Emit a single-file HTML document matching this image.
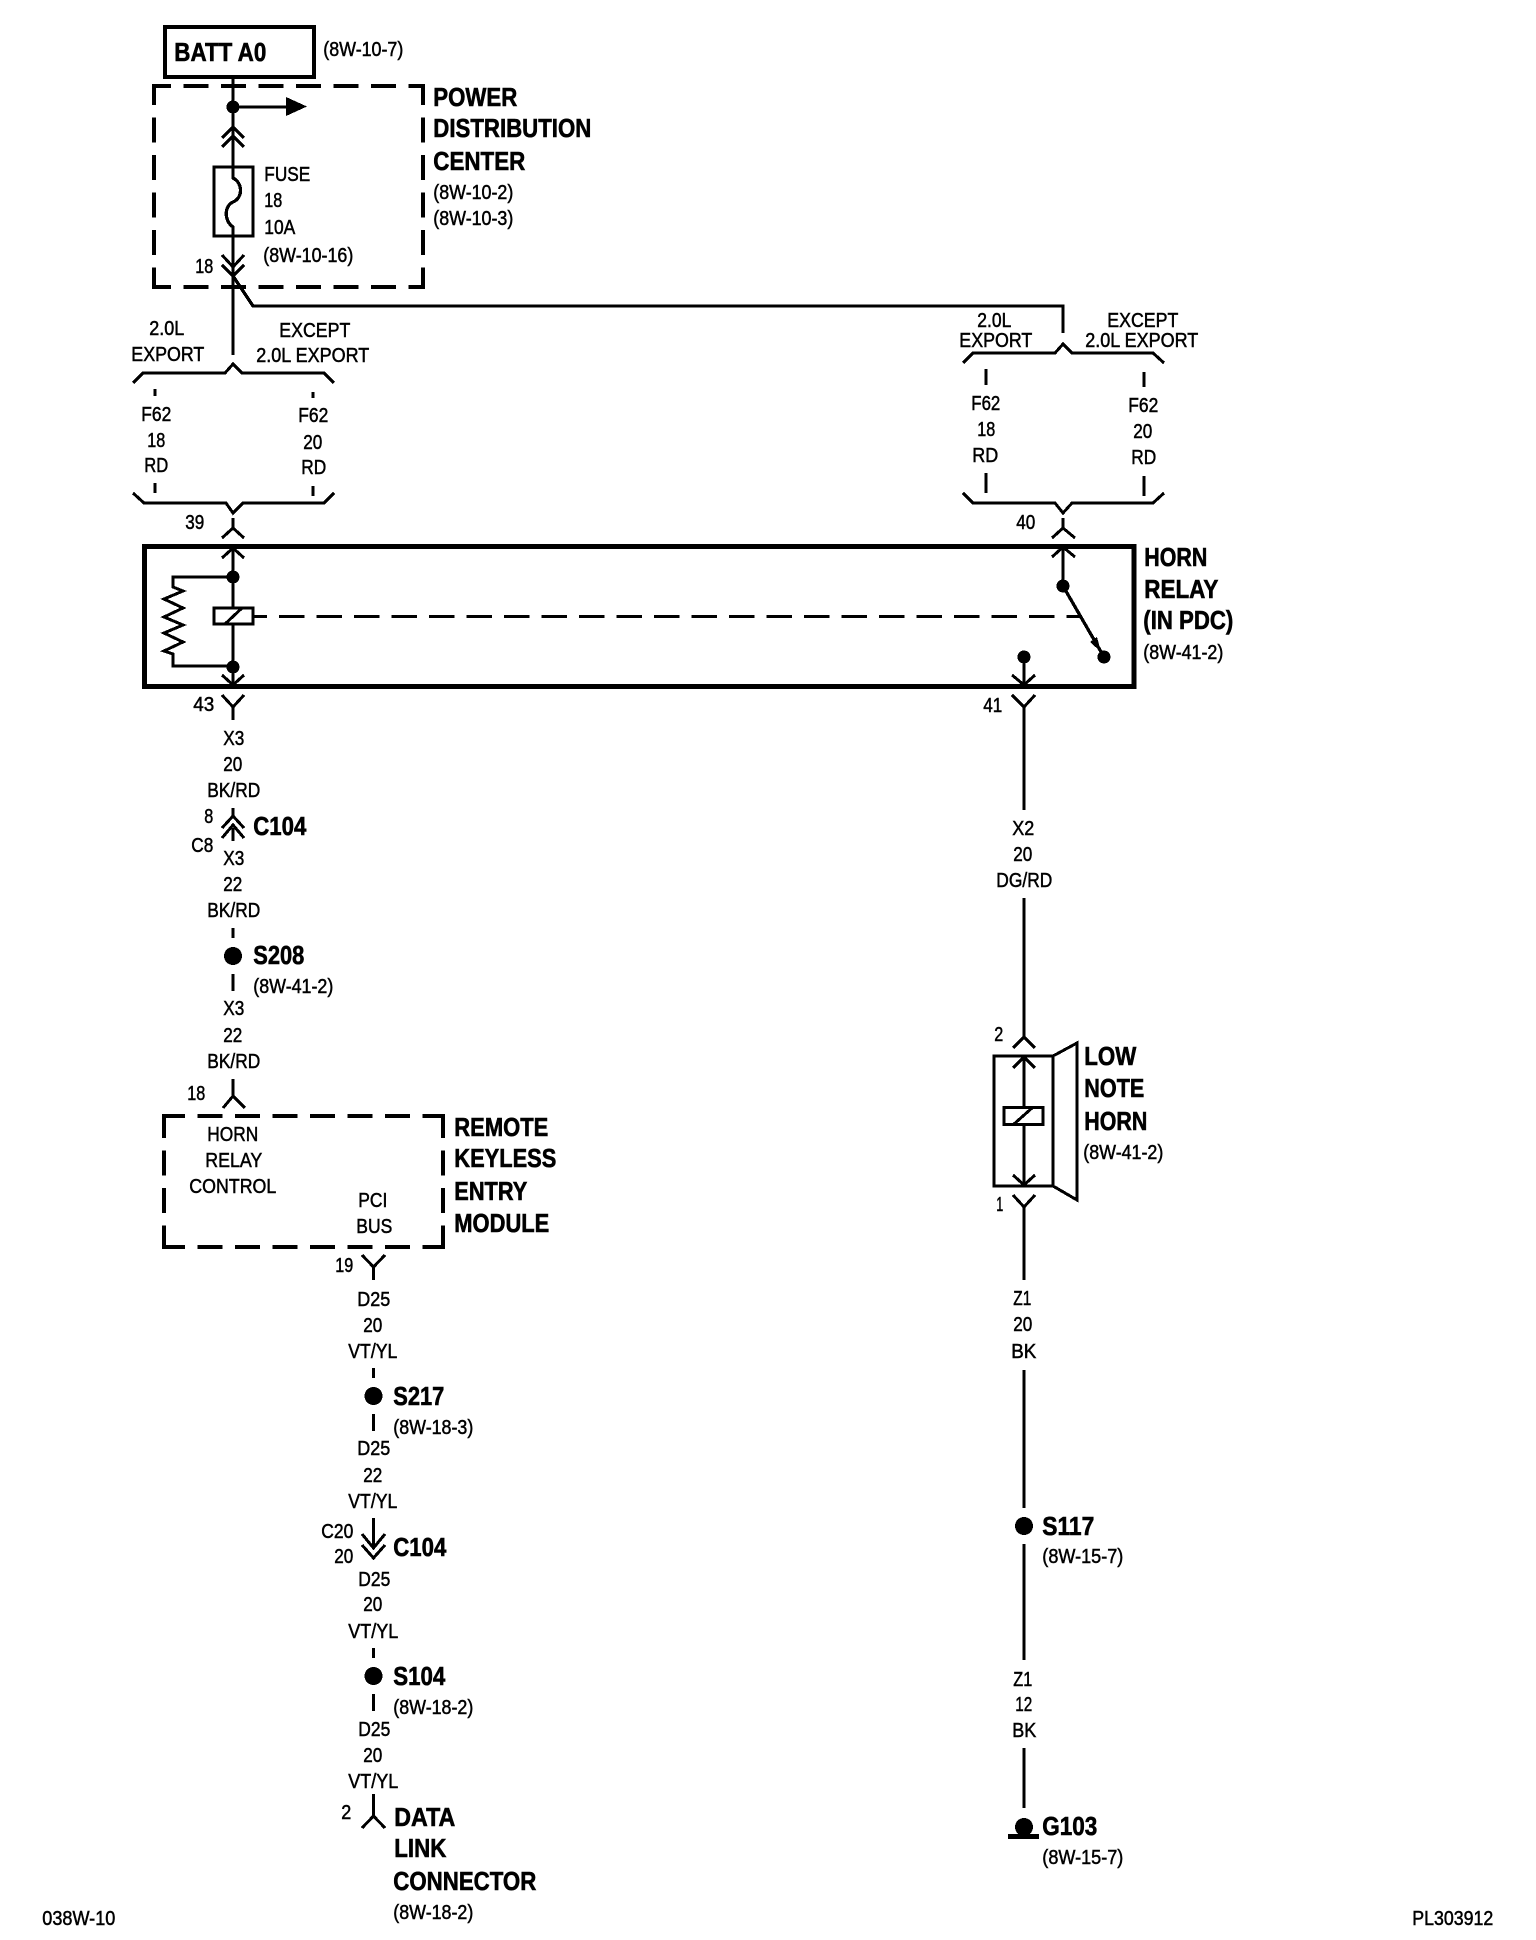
<!DOCTYPE html>
<html>
<head>
<meta charset="utf-8">
<style>
html,body{margin:0;padding:0;background:#fff}
svg{display:block}
text{font-family:"Liberation Sans",Arial,sans-serif;fill:#000;stroke:#000;transform:translate(-.7px,-.8px)}
.t{font-size:20px;stroke-width:.5}
.b{font-size:26px;font-weight:bold;stroke-width:.6}
.w{fill:none;stroke:#000;stroke-width:3.3}
.m{fill:none;stroke:#000;stroke-width:3}
.d{fill:none;stroke:#000;stroke-width:4.2}
</style>
</head>
<body>
<svg xmlns="http://www.w3.org/2000/svg" width="1536" height="1940" viewBox="0 0 1536 1940" shape-rendering="crispEdges">
<rect width="1536" height="1940" fill="#fff"/>

<!-- BATT -->
<rect x="165" y="27" width="149" height="50" class="d"/>
<text class="b" x="175" y="62" textLength="92" lengthAdjust="spacingAndGlyphs">BATT A0</text>
<text class="t" x="324" y="57" textLength="80" lengthAdjust="spacingAndGlyphs">(8W-10-7)</text>

<!-- PDC dashed -->
<g class="d" stroke-dasharray="25 12.5">
<line x1="152" y1="86" x2="425" y2="86" stroke-dashoffset="6"/>
<line x1="152" y1="287" x2="425" y2="287" stroke-dashoffset="6"/>
<line x1="154" y1="86" x2="154" y2="287" stroke-dashoffset="6"/>
<line x1="423" y1="86" x2="423" y2="287" stroke-dashoffset="6"/>
</g>
<text class="b" x="434" y="107" textLength="84" lengthAdjust="spacingAndGlyphs">POWER</text>
<text class="b" x="434" y="138" textLength="158" lengthAdjust="spacingAndGlyphs">DISTRIBUTION</text>
<text class="b" x="434" y="171" textLength="92" lengthAdjust="spacingAndGlyphs">CENTER</text>
<text class="t" x="434" y="200" textLength="80" lengthAdjust="spacingAndGlyphs">(8W-10-2)</text>
<text class="t" x="434" y="226" textLength="80" lengthAdjust="spacingAndGlyphs">(8W-10-3)</text>

<!-- top of left column -->
<path class="w" d="M233 77V178C243 183 243 198 233 202C224 206 224 221 233 227V355"/>
<circle cx="233" cy="107" r="6.5"/>
<path class="w" d="M233 107H288"/>
<path d="M286 97L307 106.500L286 116Z"/>
<path class="m" d="M222 138L233 127L244 138M222 147L233 136L244 147"/>
<rect x="214" y="167" width="39" height="69" class="m"/>
<path class="m" d="M222 255L233 267L244 255M222 265L233 276L244 265"/>
<path class="w" d="M233 276L253 306H1063V333"/>
<text class="t" x="265" y="182" textLength="46" lengthAdjust="spacingAndGlyphs">FUSE</text>
<text class="t" x="265" y="208" textLength="18" lengthAdjust="spacingAndGlyphs">18</text>
<text class="t" x="265" y="235" textLength="31" lengthAdjust="spacingAndGlyphs">10A</text>
<text class="t" x="264" y="263" textLength="90" lengthAdjust="spacingAndGlyphs">(8W-10-16)</text>
<text class="t" x="196" y="274" textLength="18" lengthAdjust="spacingAndGlyphs">18</text>

<!-- left option labels -->
<text class="t" x="150" y="336" textLength="35" lengthAdjust="spacingAndGlyphs">2.0L</text>
<text class="t" x="132" y="362" textLength="73" lengthAdjust="spacingAndGlyphs">EXPORT</text>
<text class="t" x="280" y="338" textLength="71" lengthAdjust="spacingAndGlyphs">EXCEPT</text>
<text class="t" x="257" y="363" textLength="113" lengthAdjust="spacingAndGlyphs">2.0L EXPORT</text>
<path class="m" d="M133 383L143 373H225L233 364L242 373H324L334 383"/>
<path class="w" d="M155 389V396M313 392V398M155 483V493M313 486V496"/>
<text class="t" x="142" y="422" textLength="30" lengthAdjust="spacingAndGlyphs">F62</text>
<text class="t" x="148" y="448" textLength="18" lengthAdjust="spacingAndGlyphs">18</text>
<text class="t" x="145" y="473" textLength="24" lengthAdjust="spacingAndGlyphs">RD</text>
<text class="t" x="299" y="423" textLength="30" lengthAdjust="spacingAndGlyphs">F62</text>
<text class="t" x="304" y="450" textLength="19" lengthAdjust="spacingAndGlyphs">20</text>
<text class="t" x="302" y="475" textLength="25" lengthAdjust="spacingAndGlyphs">RD</text>
<path class="m" d="M133 493L144 503H226L233 513L243 503H324L334 493"/>

<!-- right option labels -->
<text class="t" x="978" y="328" textLength="34" lengthAdjust="spacingAndGlyphs">2.0L</text>
<text class="t" x="960" y="348" textLength="73" lengthAdjust="spacingAndGlyphs">EXPORT</text>
<text class="t" x="1108" y="328" textLength="71" lengthAdjust="spacingAndGlyphs">EXCEPT</text>
<text class="t" x="1086" y="348" textLength="113" lengthAdjust="spacingAndGlyphs">2.0L EXPORT</text>
<path class="m" d="M963 363L973 353H1055L1063 344L1072 353H1153L1164 363"/>
<path class="w" d="M986 369V385M1144 372V387M986 473V493M1144 476V496"/>
<text class="t" x="972" y="411" textLength="29" lengthAdjust="spacingAndGlyphs">F62</text>
<text class="t" x="978" y="437" textLength="18" lengthAdjust="spacingAndGlyphs">18</text>
<text class="t" x="973" y="463" textLength="26" lengthAdjust="spacingAndGlyphs">RD</text>
<text class="t" x="1129" y="413" textLength="30" lengthAdjust="spacingAndGlyphs">F62</text>
<text class="t" x="1134" y="439" textLength="19" lengthAdjust="spacingAndGlyphs">20</text>
<text class="t" x="1132" y="465" textLength="25" lengthAdjust="spacingAndGlyphs">RD</text>
<path class="m" d="M963 493L973 503H1055L1063 513L1072 503H1153L1164 493"/>

<!-- relay connectors top -->
<text class="t" x="186" y="530" textLength="19" lengthAdjust="spacingAndGlyphs">39</text>
<path class="w" d="M233 518V528"/>
<path class="m" d="M222 538L233 528L244 538"/>
<text class="t" x="1017" y="530" textLength="19" lengthAdjust="spacingAndGlyphs">40</text>
<path class="w" d="M1063 518V528"/>
<path class="m" d="M1052 538L1063 528L1075 538"/>

<!-- HORN RELAY box -->
<rect x="144.500" y="546.500" width="989.500" height="140" fill="none" stroke="#000" stroke-width="5"/>
<text class="b" x="1145" y="567" textLength="63" lengthAdjust="spacingAndGlyphs">HORN</text>
<text class="b" x="1145" y="599" textLength="74" lengthAdjust="spacingAndGlyphs">RELAY</text>
<text class="b" x="1144" y="630" textLength="90" lengthAdjust="spacingAndGlyphs">(IN PDC)</text>
<text class="t" x="1144" y="660" textLength="80" lengthAdjust="spacingAndGlyphs">(8W-41-2)</text>

<!-- relay coil -->
<path class="w" d="M233 548V608M233 624V686"/>
<path class="m" d="M222 558L233 548L244 558M222 675L233 685L244 675"/>
<circle cx="233" cy="577" r="6.5"/>
<circle cx="233" cy="667" r="6.5"/>
<rect x="214" y="608" width="39" height="16" class="m"/>
<path class="m" d="M225 624L242 608"/>
<path class="m" d="M233 577H173V587L183 591L164 599L183 608L164 617L183 625L164 633L183 642L164 651L173 654V666H233"/>
<path class="m" d="M254 616.500H267"/>
<line x1="279" y1="616.500" x2="1080" y2="616.500" class="m" stroke-dasharray="25.500 12"/>

<!-- relay switch -->
<path class="w" d="M1063 548V586L1104 657"/>
<path class="m" d="M1052 557L1063 547L1075 557"/>
<circle cx="1063" cy="586" r="6.500"/>
<circle cx="1104" cy="657" r="6.500"/>
<path d="M1101 652L1090 642L1097 637Z"/>
<circle cx="1024" cy="657" r="6.500"/>
<path class="w" d="M1024 657V686"/>
<path class="m" d="M1012 675L1024 685L1035 675"/>

<!-- left column below relay -->
<text class="t" x="194" y="712" textLength="21" lengthAdjust="spacingAndGlyphs">43</text>
<path class="m" d="M222 695L233 707L244 695"/>
<path class="w" d="M233 706V720"/>
<text class="t" x="224" y="746" textLength="21" lengthAdjust="spacingAndGlyphs">X3</text>
<text class="t" x="224" y="772" textLength="19" lengthAdjust="spacingAndGlyphs">20</text>
<text class="t" x="208" y="798" textLength="53" lengthAdjust="spacingAndGlyphs">BK/RD</text>
<path class="w" d="M233 808V818M233 828V841"/>
<path class="m" d="M222 828L233 816L244 828M222 838L233 825L244 838"/>
<text class="t" x="205" y="824" textLength="9" lengthAdjust="spacingAndGlyphs">8</text>
<text class="t" x="192" y="853" textLength="22" lengthAdjust="spacingAndGlyphs">C8</text>
<text class="b" x="254" y="836" textLength="53" lengthAdjust="spacingAndGlyphs">C104</text>
<text class="t" x="224" y="866" textLength="21" lengthAdjust="spacingAndGlyphs">X3</text>
<text class="t" x="224" y="892" textLength="19" lengthAdjust="spacingAndGlyphs">22</text>
<text class="t" x="208" y="918" textLength="53" lengthAdjust="spacingAndGlyphs">BK/RD</text>
<path class="w" d="M233 928V938M233 974V991"/>
<circle cx="233" cy="956" r="9"/>
<text class="b" x="254" y="965" textLength="51" lengthAdjust="spacingAndGlyphs">S208</text>
<text class="t" x="254" y="994" textLength="80" lengthAdjust="spacingAndGlyphs">(8W-41-2)</text>
<text class="t" x="224" y="1016" textLength="21" lengthAdjust="spacingAndGlyphs">X3</text>
<text class="t" x="224" y="1043" textLength="19" lengthAdjust="spacingAndGlyphs">22</text>
<text class="t" x="208" y="1069" textLength="53" lengthAdjust="spacingAndGlyphs">BK/RD</text>
<text class="t" x="188" y="1101" textLength="18" lengthAdjust="spacingAndGlyphs">18</text>
<path class="w" d="M233 1079V1096"/>
<path class="m" d="M223 1108L233 1096L245 1108"/>

<!-- RKE module -->
<g class="d" stroke-dasharray="25 12.5">
<line x1="162" y1="1116" x2="445" y2="1116" stroke-dashoffset="2"/>
<line x1="162" y1="1247" x2="445" y2="1247" stroke-dashoffset="2"/>
<line x1="164" y1="1116" x2="164" y2="1247" stroke-dashoffset="3"/>
<line x1="443" y1="1116" x2="443" y2="1247" stroke-dashoffset="3"/>
</g>
<text class="t" x="208" y="1142" textLength="51" lengthAdjust="spacingAndGlyphs">HORN</text>
<text class="t" x="206" y="1168" textLength="57" lengthAdjust="spacingAndGlyphs">RELAY</text>
<text class="t" x="190" y="1194" textLength="87" lengthAdjust="spacingAndGlyphs">CONTROL</text>
<text class="t" x="359" y="1208" textLength="29" lengthAdjust="spacingAndGlyphs">PCI</text>
<text class="t" x="357" y="1234" textLength="36" lengthAdjust="spacingAndGlyphs">BUS</text>
<text class="b" x="455" y="1137" textLength="94" lengthAdjust="spacingAndGlyphs">REMOTE</text>
<text class="b" x="455" y="1168" textLength="102" lengthAdjust="spacingAndGlyphs">KEYLESS</text>
<text class="b" x="455" y="1201" textLength="73" lengthAdjust="spacingAndGlyphs">ENTRY</text>
<text class="b" x="455" y="1233" textLength="95" lengthAdjust="spacingAndGlyphs">MODULE</text>

<!-- D25 chain -->
<text class="t" x="336" y="1273" textLength="18" lengthAdjust="spacingAndGlyphs">19</text>
<path class="m" d="M362 1255L373.500 1267L385 1255"/>
<path class="w" d="M373.500 1266V1280"/>
<text class="t" x="358" y="1307" textLength="33" lengthAdjust="spacingAndGlyphs">D25</text>
<text class="t" x="364" y="1333" textLength="19" lengthAdjust="spacingAndGlyphs">20</text>
<text class="t" x="349" y="1359" textLength="49" lengthAdjust="spacingAndGlyphs">VT/YL</text>
<path class="w" d="M373.500 1368V1378M373.500 1414V1431"/>
<circle cx="373.500" cy="1396" r="9"/>
<text class="b" x="394" y="1406" textLength="51" lengthAdjust="spacingAndGlyphs">S217</text>
<text class="t" x="394" y="1435" textLength="80" lengthAdjust="spacingAndGlyphs">(8W-18-3)</text>
<text class="t" x="358" y="1456" textLength="33" lengthAdjust="spacingAndGlyphs">D25</text>
<text class="t" x="364" y="1483" textLength="19" lengthAdjust="spacingAndGlyphs">22</text>
<text class="t" x="349" y="1509" textLength="49" lengthAdjust="spacingAndGlyphs">VT/YL</text>
<path class="w" d="M373.500 1518V1548"/>
<path class="m" d="M362 1534L373.500 1548L385 1534M362 1545L373.500 1558L385 1545"/>
<text class="t" x="322" y="1539" textLength="32" lengthAdjust="spacingAndGlyphs">C20</text>
<text class="t" x="335" y="1564" textLength="19" lengthAdjust="spacingAndGlyphs">20</text>
<text class="b" x="394" y="1557" textLength="53" lengthAdjust="spacingAndGlyphs">C104</text>
<text class="t" x="359" y="1587" textLength="32" lengthAdjust="spacingAndGlyphs">D25</text>
<text class="t" x="364" y="1612" textLength="19" lengthAdjust="spacingAndGlyphs">20</text>
<text class="t" x="349" y="1639" textLength="50" lengthAdjust="spacingAndGlyphs">VT/YL</text>
<path class="w" d="M373.500 1648V1658M373.500 1694V1711"/>
<circle cx="373.500" cy="1676" r="9"/>
<text class="b" x="394" y="1686" textLength="52" lengthAdjust="spacingAndGlyphs">S104</text>
<text class="t" x="394" y="1715" textLength="80" lengthAdjust="spacingAndGlyphs">(8W-18-2)</text>
<text class="t" x="359" y="1737" textLength="32" lengthAdjust="spacingAndGlyphs">D25</text>
<text class="t" x="364" y="1763" textLength="19" lengthAdjust="spacingAndGlyphs">20</text>
<text class="t" x="349" y="1789" textLength="50" lengthAdjust="spacingAndGlyphs">VT/YL</text>
<path class="w" d="M373.500 1794V1817"/>
<path class="m" d="M362 1828L373.500 1816L385 1828"/>
<text class="t" x="342" y="1820" textLength="10" lengthAdjust="spacingAndGlyphs">2</text>
<text class="b" x="395" y="1827" textLength="61" lengthAdjust="spacingAndGlyphs">DATA</text>
<text class="b" x="395" y="1858" textLength="52" lengthAdjust="spacingAndGlyphs">LINK</text>
<text class="b" x="394" y="1891" textLength="143" lengthAdjust="spacingAndGlyphs">CONNECTOR</text>
<text class="t" x="394" y="1920" textLength="80" lengthAdjust="spacingAndGlyphs">(8W-18-2)</text>

<!-- right column -->
<text class="t" x="984" y="713" textLength="19" lengthAdjust="spacingAndGlyphs">41</text>
<path class="m" d="M1012 695L1024 707L1035 695"/>
<path class="w" d="M1024 706V810M1024 898V1037"/>
<text class="t" x="1013" y="836" textLength="22" lengthAdjust="spacingAndGlyphs">X2</text>
<text class="t" x="1014" y="862" textLength="19" lengthAdjust="spacingAndGlyphs">20</text>
<text class="t" x="997" y="888" textLength="56" lengthAdjust="spacingAndGlyphs">DG/RD</text>
<text class="t" x="995" y="1042" textLength="9" lengthAdjust="spacingAndGlyphs">2</text>
<path class="m" d="M1013 1048L1024 1037L1035 1048"/>
<rect x="994" y="1056" width="59" height="130" class="w"/>
<path class="m" d="M1053 1056L1077 1043V1200L1053 1186"/>
<path class="w" d="M1024 1056V1107M1024 1125V1186"/>
<path class="m" d="M1013 1068L1024 1057L1035 1068M1013 1175L1024 1185L1035 1175"/>
<rect x="1004" y="1107.500" width="39" height="17" class="m"/>
<path class="m" d="M1014 1124L1032 1108"/>
<text class="b" x="1085" y="1066" textLength="52" lengthAdjust="spacingAndGlyphs">LOW</text>
<text class="b" x="1085" y="1098" textLength="60" lengthAdjust="spacingAndGlyphs">NOTE</text>
<text class="b" x="1085" y="1131" textLength="63" lengthAdjust="spacingAndGlyphs">HORN</text>
<text class="t" x="1084" y="1160" textLength="80" lengthAdjust="spacingAndGlyphs">(8W-41-2)</text>
<text class="t" x="997" y="1212" textLength="7" lengthAdjust="spacingAndGlyphs">1</text>
<path class="m" d="M1013 1195L1024 1207L1035 1195"/>
<path class="w" d="M1024 1206V1280"/>
<text class="t" x="1014" y="1306" textLength="18" lengthAdjust="spacingAndGlyphs">Z1</text>
<text class="t" x="1014" y="1332" textLength="19" lengthAdjust="spacingAndGlyphs">20</text>
<text class="t" x="1012" y="1359" textLength="25" lengthAdjust="spacingAndGlyphs">BK</text>
<path class="w" d="M1024 1370V1508M1024 1544V1660"/>
<circle cx="1024" cy="1526" r="9"/>
<text class="b" x="1043" y="1536" textLength="52" lengthAdjust="spacingAndGlyphs">S117</text>
<text class="t" x="1043" y="1564" textLength="81" lengthAdjust="spacingAndGlyphs">(8W-15-7)</text>
<text class="t" x="1014" y="1687" textLength="19" lengthAdjust="spacingAndGlyphs">Z1</text>
<text class="t" x="1016" y="1712" textLength="17" lengthAdjust="spacingAndGlyphs">12</text>
<text class="t" x="1013" y="1738" textLength="24" lengthAdjust="spacingAndGlyphs">BK</text>
<path class="w" d="M1024 1748V1808"/>
<circle cx="1024" cy="1827" r="9"/>
<rect x="1008" y="1834" width="31" height="5"/>
<text class="b" x="1043" y="1836" textLength="55" lengthAdjust="spacingAndGlyphs">G103</text>
<text class="t" x="1043" y="1865" textLength="81" lengthAdjust="spacingAndGlyphs">(8W-15-7)</text>

<!-- footer -->
<text class="t" x="43" y="1926" textLength="73" lengthAdjust="spacingAndGlyphs">038W-10</text>
<text class="t" x="1413" y="1926" textLength="81" lengthAdjust="spacingAndGlyphs">PL303912</text>
</svg>
</body>
</html>
